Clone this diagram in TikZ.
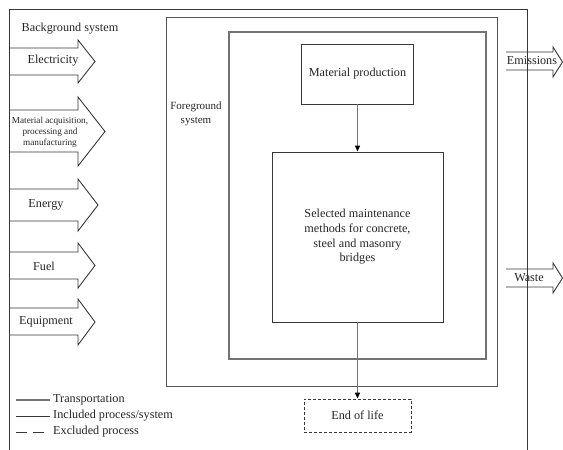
\documentclass[tikz,border=0pt]{standalone}
\usepackage{fontspec}
\setmainfont{Liberation Serif}
\usetikzlibrary{arrows.meta}
\definecolor{thinc}{RGB}{55,55,55}
\definecolor{fgc}{RGB}{85,85,85}
\definecolor{thickc}{RGB}{115,115,115}
\begin{document}
\begin{tikzpicture}[x=1pt,y=-1pt,
  txt/.style={font=\fontsize{12.2}{14.7}\selectfont, align=center, inner sep=0pt, text=black!85},
  small/.style={font=\fontsize{9.2}{11}\selectfont, align=center, inner sep=0pt, text=black!85},
  fgtxt/.style={font=\fontsize{11}{14}\selectfont, align=center, inner sep=0pt, text=black!85},
  thinline/.style={draw=thinc, line width=0.9pt},
  thickline/.style={draw=thickc, line width=2.6pt},
  fgline/.style={draw=fgc, line width=1pt},
  inbox/.style={thinline, inner sep=0pt, txt},
  exbox/.style={thinline, dashed, dash pattern=on 3pt off 2pt, inner sep=0pt, txt},
  flow/.style={thinline, line join=miter},
  conn/.style={draw=thickc, line width=1.2pt, -{Triangle[length=6pt,width=5pt,color=black]}}
]
\useasboundingbox (0,0) rectangle (563,450);
% outer background system box (open at the bottom)
\draw[thinline] (9,450) -- (9,9) -- (527,9) -- (527,450);
% foreground system box
\node[fgline, minimum width=331pt, minimum height=369pt, inner sep=0pt] (fg) at (331.5,201.5) {};
% transportation box
\node[thickline, minimum width=257pt, minimum height=327pt, inner sep=0pt] (tr) at (357.5,195.5) {};
% process boxes
\node[inbox, minimum width=112pt, minimum height=60pt] (mp) at (357.5,74) {Material production};
\node[inbox, minimum width=171pt, minimum height=170pt] (sel) at (357.5,237) {Selected maintenance\\methods for concrete,\\steel and masonry\\bridges};
\node[exbox, minimum width=107pt, minimum height=33pt] (eol) at (357.5,415.5) {End of life};
\draw[conn] (mp.south) -- (sel.north);
\draw[conn] (sel.south) -- (eol.north);
% input flows
\draw[flow] (9,48) -- (78,48) -- (78,40) -- (95,61.5) -- (78,83) -- (78,75) -- (9,75);
\draw[flow] (9,110) -- (78,110) -- (78,97) -- (105,131.5) -- (78,166) -- (78,152) -- (9,152);
\draw[flow] (9,189) -- (78,189) -- (78,179) -- (98,205) -- (78,231) -- (78,221) -- (9,221);
\draw[flow] (9,252) -- (78,252) -- (78,243) -- (95,265.5) -- (78,288) -- (78,279) -- (9,279);
\draw[flow] (9,308) -- (78,308) -- (78,299) -- (95,322) -- (78,345) -- (78,335) -- (9,335);
% output flows
\draw[flow] (506,52) -- (553,52) -- (553,47) -- (562.5,62) -- (553,77) -- (553,70) -- (506,70);
\draw[flow] (506,269) -- (553,269) -- (553,263) -- (562.5,278) -- (553,293) -- (553,287) -- (506,287);
% labels
\node[txt] (bg) at (70,29) {Background system};
\node[txt] (elec) at (53,61) {Electricity};
\node[small] (mat) at (50,132) {Material acquisition,\\processing and\\manufacturing};
\node[txt] (ener) at (46,205) {Energy};
\node[txt] (fuel) at (44,266) {Fuel};
\node[txt] (equip) at (46,322) {Equipment};
\node[fgtxt] (fgl) at (196,114) {Foreground\\system};
\node[txt] (emis) at (532,61) {Emissions};
\node[txt] (waste) at (529,278) {Waste};
% legend
\coordinate (l1a) at (16,400); \coordinate (l1b) at (50,400);
\coordinate (l2a) at (16,416); \coordinate (l2b) at (50,416);
\coordinate (l3a) at (16,432); \coordinate (l3b) at (50,432);
\draw[draw=thickc, line width=2.2pt] (l1a) -- (l1b);
\draw[thinline] (l2a) -- (l2b);
\draw[thinline, dash pattern=on 11pt off 6pt] (l3a) -- (l3b);
\node[txt, anchor=west] (lg1) at (53,400) {Transportation};
\node[txt, anchor=west] (lg2) at (53,416) {Included process/system};
\node[txt, anchor=west] (lg3) at (53,432) {Excluded process};
\end{tikzpicture}
\end{document}
